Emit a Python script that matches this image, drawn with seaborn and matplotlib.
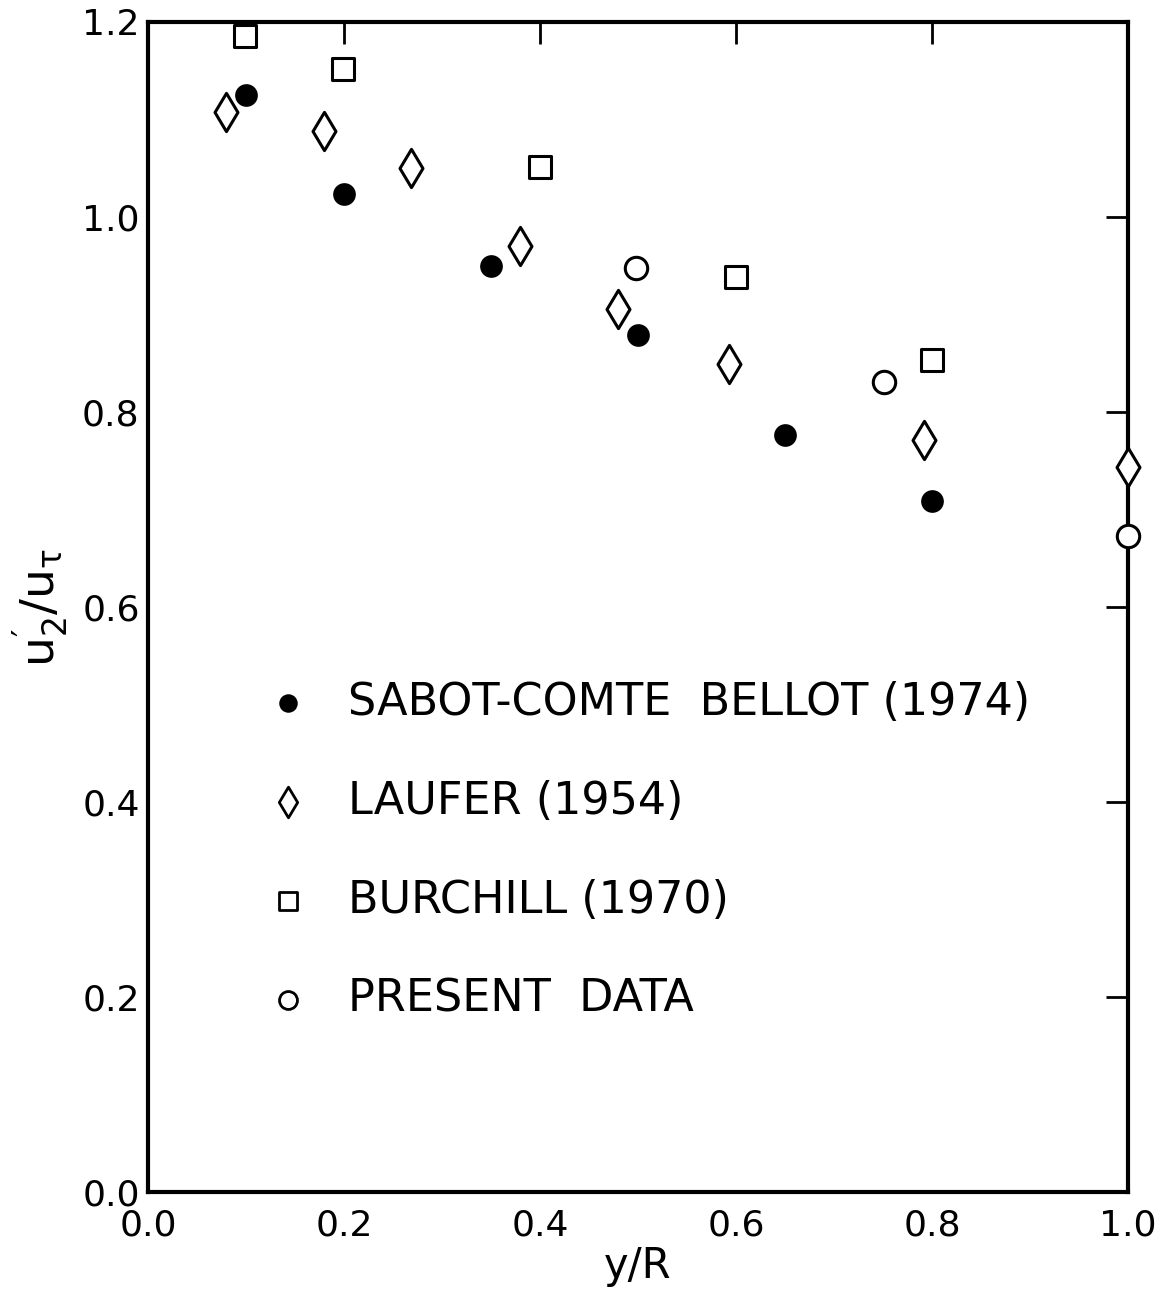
import matplotlib
matplotlib.use("Agg")
import matplotlib.pyplot as plt
import seaborn as sns
import pandas as pd

# Data
sabot_x = [0.10, 0.20, 0.35, 0.50, 0.65, 0.80]
sabot_y = [1.125, 1.024, 0.950, 0.879, 0.776, 0.709]

laufer_x = [0.08, 0.18, 0.268, 0.38, 0.48, 0.593, 0.792, 1.0]
laufer_y = [1.108, 1.088, 1.050, 0.970, 0.906, 0.849, 0.771, 0.744]

burchill_x = [0.099, 0.199, 0.40, 0.60, 0.80]
burchill_y = [1.186, 1.152, 1.051, 0.938, 0.853]

present_x = [0.498, 0.751, 1.0]
present_y = [0.948, 0.831, 0.673]

labels = ["SABOT-COMTE  BELLOT (1974)", "LAUFER (1954)", "BURCHILL (1970)", "PRESENT  DATA"]
x_ticks = [0.0, 0.2, 0.4, 0.6, 0.8, 1.0]
y_ticks = [0.0, 0.2, 0.4, 0.6, 0.8, 1.0, 1.2]

sns.set_style("white")
plt.rcParams['font.family'] = ['DejaVu Sans']
plt.rcParams['mathtext.fontset'] = 'dejavusans'

fig = plt.figure(figsize=(11.6, 12.92), dpi=100)
ax = fig.add_axes([0.1276, 0.0774, 0.8448, 0.9056])

series = [
    (sabot_x, sabot_y, "o", "black", 200),
    (laufer_x, laufer_y, "d", "white", 380),
    (burchill_x, burchill_y, "s", "white", 260),
    (present_x, present_y, "o", "white", 260),
]
for (xs, ys, mk, fc, sz), lab in zip(series, labels):
    df = pd.DataFrame({"x": xs, "y": ys})
    sns.scatterplot(data=df, x="x", y="y", marker=mk, s=sz, facecolor=fc,
                    edgecolor="black", linewidth=2.2, ax=ax, label=lab,
                    clip_on=False, zorder=3)

ax.set_xlim(0, 1.0)
ax.set_ylim(0, 1.2)
ax.set_xticks(x_ticks)
ax.set_yticks(y_ticks)
ax.set_xticklabels([f"{t:.1f}" for t in x_ticks])
ax.set_yticklabels([f"{t:.1f}" for t in y_ticks])
ax.tick_params(direction="in", length=16, width=2, top=True, right=True,
               labelsize=26, colors="black")
ax.tick_params(axis="x", pad=12)
ax.tick_params(axis="y", pad=6)
for sp in ax.spines.values():
    sp.set_linewidth(3)
    sp.set_color("black")

ax.set_xlabel("y/R", fontsize=30, labelpad=2, color="black")
ax.set_ylabel(r"$\mathregular{u_2^{\prime}/u_{\tau}}$", fontsize=34, labelpad=8, color="black")

leg = ax.legend(loc="upper left", bbox_to_anchor=(0.098, 0.437), frameon=False,
                fontsize=32, labelspacing=1.26, handletextpad=0.33,
                markerscale=0.8, borderaxespad=0, borderpad=0)
for t in leg.get_texts():
    t.set_color("black")
for h in leg.legend_handles:
    h.set_linewidth(2)

fig.savefig("out.png", dpi=100)
